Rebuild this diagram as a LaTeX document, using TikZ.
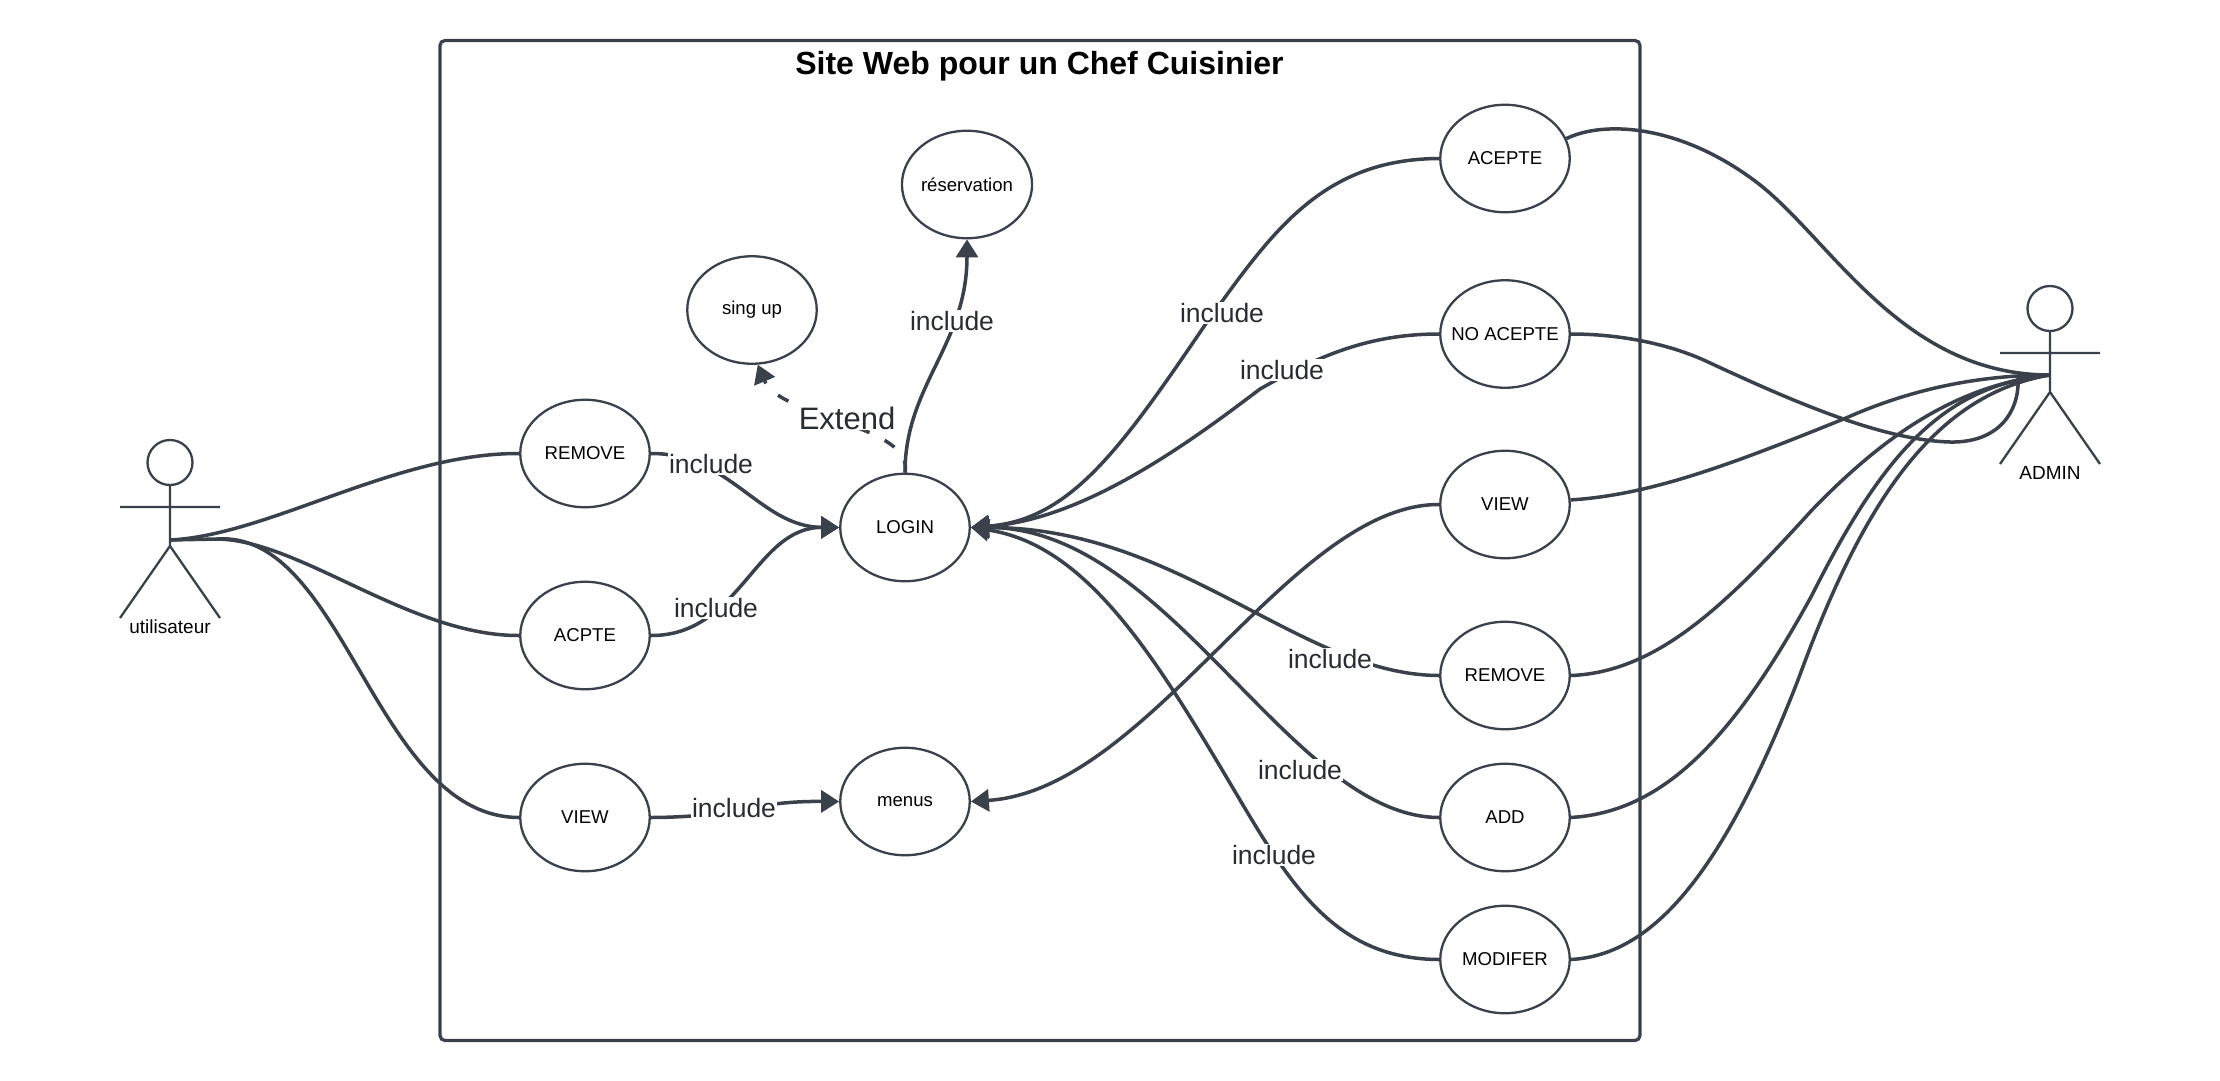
\documentclass[tikz,border=0pt]{standalone}
\usepackage{fontspec}
\setmainfont{Liberation Sans}
\usetikzlibrary{shapes.geometric,arrows.meta}
\definecolor{ln}{HTML}{3A414A}
\definecolor{lb}{HTML}{282C33}
\tikzset{
  usecase/.style={ellipse,draw=ln,line width=2.3pt,fill=white,minimum width=129.5pt,minimum height=107.5pt,inner sep=0pt,text=black,font=\fontsize{18.6}{23}\selectfont},
  head/.style={ellipse,draw=ln,line width=2.3pt,minimum width=45pt,minimum height=45pt,inner sep=0pt},
  limb/.style={draw=ln,line width=2.3pt},
  actorname/.style={text=black,font=\fontsize{19}{23}\selectfont,inner sep=0pt},
  conn/.style={draw=ln,line width=3.5pt,line join=round},
  arr/.style={conn,-{Triangle[length=18pt,width=22pt]}},
  dasharr/.style={arr,dash pattern=on 12pt off 17pt},
  lab/.style={fill=white,text=lb,inner sep=1pt,font=\fontsize{26.5}{30}\selectfont},
  lab2/.style={fill=white,text=lb,inner sep=1pt,font=\fontsize{31}{35}\selectfont},
}
\begin{document}
\begin{tikzpicture}[x=1pt,y=-1pt]
\useasboundingbox (0,0) rectangle (2220,1080);
\node[draw=ln,line width=3.2pt,rounded corners=5pt,minimum width=1200pt,minimum height=1000pt,inner sep=0pt] (frame) at (1040,540.5) {};
\node[text=black,inner sep=0pt,font=\bfseries\fontsize{32}{38}\selectfont] (title) at (1039.5,66) {Site Web pour un Chef Cuisinier};
% use cases
\node[usecase] (res) at (967,184.5) {réservation};
\node[usecase] (sing) at (752,310) {sing up};
\node[usecase] (lrem) at (585,453.5) {REMOVE};
\node[usecase] (lacp) at (585,635.5) {ACPTE};
\node[usecase] (lview) at (585,817.5) {VIEW};
\node[usecase] (login) at (905,527.5) {LOGIN};
\node[usecase] (menus) at (905,801.5) {menus};
\node[usecase] (racc) at (1505,158.5) {ACEPTE};
\node[usecase] (rno) at (1505,334) {\makebox[0pt]{NO ACEPTE}};
\node[usecase] (rview) at (1505,504.5) {VIEW};
\node[usecase] (rrem) at (1505,675.5) {REMOVE};
\node[usecase] (radd) at (1505,817.5) {ADD};
\node[usecase] (rmod) at (1505,959.5) {MODIFER};
% actor utilisateur
\node[head] (uhead) at (170,462.5) {};
\coordinate (ucrotch) at (170,546);
\coordinate (uarml) at (120,507);
\coordinate (uarmr) at (220,507);
\coordinate (ulegl) at (120,618);
\coordinate (ulegr) at (220,618);
\coordinate (uhub) at (170,540);
\coordinate (uhubb) at (217,539);
\draw[limb] (uhead.south) -- (ucrotch) (uarml) -- (uarmr) (ulegl) -- (ucrotch) -- (ulegr);
\node[actorname] (uname) at (170,627) {utilisateur};
% actor admin
\node[head] (ahead) at (2050,308.5) {};
\coordinate (acrotch) at (2050,392);
\coordinate (aarml) at (2000,353);
\coordinate (aarmr) at (2100,353);
\coordinate (alegl) at (2000,464);
\coordinate (alegr) at (2100,464);
\coordinate (ahub) at (2050,375);
\draw[limb] (ahead.south) -- (acrotch) (aarml) -- (aarmr) (alegl) -- (acrotch) -- (alegr);
\node[actorname] (aname) at (2050,473) {ADMIN};
% left actor links
\draw[conn] (uhub) .. controls (270,535) and (395,453) .. (lrem.west);
\draw[conn] (uhub) -- (uhubb) .. controls (300,540) and (410,636) .. (lacp.west);
\draw[conn] (uhubb) .. controls (345,530) and (375,817) .. (lview.west);
% include left
\draw[arr] (lrem.east) .. controls (730,453) and (760,527) .. (login.west);
\draw[arr] (lacp.east) .. controls (740,636) and (755,527) .. (login.west);
\draw[arr] (lview.east) .. controls (740,817) and (750,801) .. (menus.west);
\draw[arr] (login.north) .. controls (905,385) and (967,345) .. (res.south);
\draw[dasharr] (login.north) .. controls (915,425) and (780,418) .. (sing.276);
% include right
\draw[arr] (racc.west) .. controls (1320,159) and (1270,235) .. (1205,325) .. controls (1120,450) and (1070,520) .. (login.east);
\draw[arr] (rno.west) .. controls (1370,334) and (1320,355) .. (1260,389) .. controls (1180,450) and (1080,520) .. (login.east);
\draw[arr] (rview.west) .. controls (1290,504) and (1150,790) .. (menus.east);
\draw[arr] (rrem.west) .. controls (1300,675) and (1180,527) .. (login.east);
\draw[arr] (radd.west) .. controls (1290,817) and (1170,527) .. (login.east);
\draw[arr] (rmod.west) .. controls (1340,959) and (1295,893) .. (1240,800) .. controls (1160,665) and (1090,545) .. (login.east);
% admin links
\draw[conn] (racc.18) .. controls (1605,120) and (1680,125) .. (1755,181) .. controls (1830,237) and (1900,375) .. (ahub);
\draw[conn] (rno.east) .. controls (1620,334) and (1670,344) .. (1708,362) .. controls (1790,400) and (1880,440) .. (1950,442) .. controls (2000,443) and (2020,410) .. (2018,377) -- (ahub);
\draw[conn] (rview.4) .. controls (1650,495) and (1730,465) .. (1846,418) .. controls (1920,385) and (1990,375) .. (ahub);
\draw[conn] (rrem.east) .. controls (1660,672) and (1730,600) .. (1812,510) .. controls (1875,445) and (1950,385) .. (ahub);
\draw[conn] (radd.east) .. controls (1660,812) and (1730,745) .. (1812,595) .. controls (1880,460) and (1940,385) .. (ahub);
\draw[conn] (rmod.east) .. controls (1650,955) and (1720,880) .. (1798,680) .. controls (1860,510) and (1930,395) .. (ahub);
% labels
\node[lab] (l1) at (711,464) {include};
\node[lab] (l2) at (716,608) {include};
\node[lab] (l3) at (734,808) {include};
\node[lab] (l4) at (952,321) {include};
\node[lab2] (l5) at (847,418) {Extend};
\node[lab] (l6) at (1222,313) {include};
\node[lab] (l7) at (1282,370) {include};
\node[lab] (l8) at (1330,659) {include};
\node[lab] (l9) at (1300,770) {include};
\node[lab] (l10) at (1274,855) {include};
\end{tikzpicture}
\end{document}
